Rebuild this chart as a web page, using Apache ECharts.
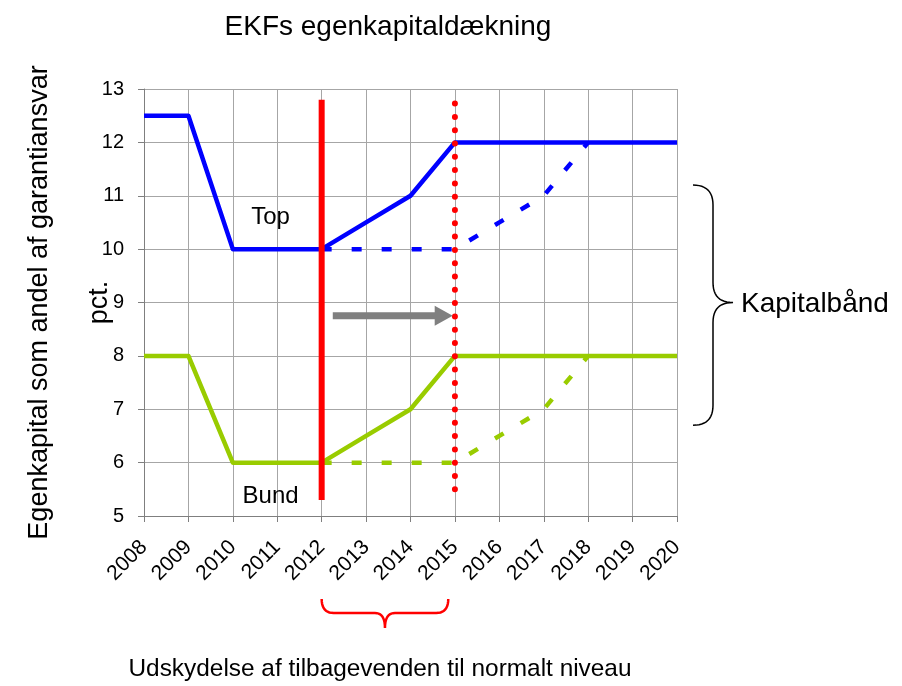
<!DOCTYPE html>
<html>
<head>
<meta charset="utf-8">
<script src="https://cdn.jsdelivr.net/npm/echarts@6/dist/echarts.min.js"></script>
<style>
  html, body { margin: 0; padding: 0; background: #ffffff; }
  #chart { width: 902px; height: 686px; }
</style>
</head>
<body>
<div id="chart"></div>
<script>
// ---- Data ----
const years = [2008, 2009, 2010, 2011, 2012, 2013, 2014, 2015, 2016, 2017, 2018, 2019, 2020];
const topSolid    = [12.5, 12.5, 10, 10, 10, 10.5, 11, 12, 12, 12, 12, 12, 12];
const topDashed   = [null, null, null, null, 10, 10, 10, 10, 10.5, 11, 12, null, null];
const bundSolid   = [8, 8, 6, 6, 6, 6.5, 7, 8, 8, 8, 8, 8, 8];
const bundDashed  = [null, null, null, null, 6, 6, 6, 6, 6.5, 7, 8, null, null];
const redSolidLine  = [[2012, 5.3], [2012, 12.8]];
const redDottedLine = [[2015, 5.5], [2015, 12.83]];
const arrowFrom = [2012.25, 8.75];
const arrowTo   = [2014.95, 8.75];
const yTicks = [5, 6, 7, 8, 9, 10, 11, 12, 13];

const FONT = 'Liberation Sans';
const pair = arr => years.map((y, i) => [y, arr[i]]);

const chart = echarts.init(document.getElementById('chart'), null, { renderer: 'canvas' });

const option = {
  animation: false,
  backgroundColor: '#ffffff',
  grid: { left: 144, right: 225, top: 89, bottom: 170, containLabel: false, outerBoundsMode: 'none' },
  xAxis: {
    type: 'value',
    min: years[0], max: years[years.length - 1], interval: 1,
    axisLine: { show: true, lineStyle: { color: '#7f7f7f', width: 1 } },
    axisTick: { show: true, length: 6, lineStyle: { color: '#7f7f7f' } },
    axisLabel: {
      rotate: 45, margin: 28, color: '#000', fontFamily: FONT, fontSize: 21,
      formatter: v => String(v)
    },
    splitLine: { show: true, lineStyle: { color: '#a6a6a6', width: 1 } }
  },
  yAxis: {
    type: 'value',
    min: yTicks[0], max: yTicks[yTicks.length - 1], interval: 1,
    axisLine: { show: true, lineStyle: { color: '#7f7f7f', width: 1 } },
    axisTick: { show: true, length: 6, lineStyle: { color: '#7f7f7f' } },
    axisLabel: { margin: 20, color: '#000', fontFamily: FONT, fontSize: 20 },
    splitLine: { show: true, lineStyle: { color: '#a6a6a6', width: 1 } }
  },
  series: [
    { name: 'Top', type: 'line', data: pair(topSolid), symbol: 'none', z: 3,
      lineStyle: { color: '#0000ff', width: 4.5, join: 'round' } },
    { name: 'Top udskudt', type: 'line', data: pair(topDashed), symbol: 'none', z: 2,
      lineStyle: { color: '#0000ff', width: 4.5, type: [10, 20] } },
    { name: 'Bund', type: 'line', data: pair(bundSolid), symbol: 'none', z: 3,
      lineStyle: { color: '#99cc00', width: 4.5, join: 'round' } },
    { name: 'Bund udskudt', type: 'line', data: pair(bundDashed), symbol: 'none', z: 2,
      lineStyle: { color: '#99cc00', width: 4.5, type: [10, 20] } },
    { name: 'Nu', type: 'line', data: redSolidLine, symbol: 'none', z: 5,
      lineStyle: { color: '#ff0000', width: 6, cap: 'butt' } },
    { name: 'Ny', type: 'line', data: redDottedLine, symbol: 'none', z: 5,
      lineStyle: { color: '#ff0000', width: 6, type: [0, 13.3], cap: 'round' } }
  ]
};
chart.setOption(option);

function px(pt) { return chart.convertToPixel({ gridIndex: 0 }, pt); }

// quadratic bezier sampler -> points
function quad(p0, c, p1, n) {
  const out = [];
  for (let i = 0; i <= n; i++) {
    const t = i / n, u = 1 - t;
    out.push([u * u * p0[0] + 2 * u * t * c[0] + t * t * p1[0], u * u * p0[1] + 2 * u * t * c[1] + t * t * p1[1]]);
  }
  return out;
}

const a0 = px(arrowFrom), a1 = px(arrowTo);
const shaftH = 3.5, headH = 10, headL = 18;
const arrowPts = [
  [a0[0], a0[1] - shaftH], [a1[0] - headL, a0[1] - shaftH], [a1[0] - headL, a0[1] - headH],
  [a1[0], a0[1]], [a1[0] - headL, a0[1] + headH], [a1[0] - headL, a0[1] + shaftH], [a0[0], a0[1] + shaftH]
];

const gridBottom = px([2008, 5])[1];
const gridTop = px([2008, 13])[1];
const gridRight = px([2020, 5])[0];
const p2012 = px([2012, 5])[0];
const p2015 = px([2014.85, 5])[0];
const yMidPx = (gridTop + gridBottom) / 2;

// right curly brace (Kapitalbånd)
const bTop = px([2020, 11.2])[1], bBot = px([2020, 6.7])[1], bMid = px([2020, 9])[1];
const bx0 = gridRight + 16, bw = 40, r = 20;
const bxm = bx0 + bw / 2;
const rightBrace = [].concat(
  quad([bx0, bTop], [bxm, bTop], [bxm, bTop + r], 12),
  quad([bxm, bMid - r], [bxm, bMid], [bx0 + bw, bMid], 12),
  quad([bx0 + bw, bMid], [bxm, bMid], [bxm, bMid + r], 12),
  quad([bxm, bBot - r], [bxm, bBot], [bx0, bBot], 12)
);

// red curly brace under axis
const rbTop = gridBottom + 83, rbLine = gridBottom + 97, rbTip = gridBottom + 112;
const rbL = p2012, rbR = p2015, rbM = (rbL + rbR) / 2, rr = 12;
const redBrace = [].concat(
  quad([rbL, rbTop], [rbL, rbLine], [rbL + rr, rbLine], 10),
  quad([rbM - 10, rbLine], [rbM, rbLine], [rbM, rbTip], 10),
  quad([rbM, rbTip], [rbM, rbLine], [rbM + 10, rbLine], 10),
  quad([rbR - rr, rbLine], [rbR, rbLine], [rbR, rbTop], 10)
);

const topLbl = px([2010.85, 10.6]);
const bundLbl = px([2010.85, 5.37]);

chart.setOption({
  graphic: [
    { type: 'text', x: 388, y: 27, style: { text: 'EKFs egenkapitaldækning', fontFamily: FONT, fontSize: 28, fill: '#000', textAlign: 'center', textVerticalAlign: 'middle' } },
    { type: 'text', x: 40, y: yMidPx, rotation: Math.PI / 2, style: { text: 'Egenkapital som andel af garantiansvar', fontFamily: FONT, fontSize: 27, fill: '#000', textAlign: 'center', textVerticalAlign: 'middle' } },
    { type: 'text', x: 100, y: yMidPx, rotation: Math.PI / 2, style: { text: 'pct.', fontFamily: FONT, fontSize: 27, fill: '#000', textAlign: 'center', textVerticalAlign: 'middle' } },
    { type: 'text', x: 380, y: 669, style: { text: 'Udskydelse af tilbagevenden til normalt niveau', fontFamily: FONT, fontSize: 24.4, fill: '#000', textAlign: 'center', textVerticalAlign: 'middle' } },
    { type: 'text', x: bx0 + bw + 8, y: bMid + 2, style: { text: 'Kapitalbånd', fontFamily: FONT, fontSize: 28, fill: '#000', textAlign: 'left', textVerticalAlign: 'middle' } },
    { type: 'text', x: topLbl[0], y: topLbl[1], z: 10, style: { text: 'Top', fontFamily: FONT, fontSize: 24, fill: '#000', textAlign: 'center', textVerticalAlign: 'middle' } },
    { type: 'text', x: bundLbl[0], y: bundLbl[1], z: 10, style: { text: 'Bund', fontFamily: FONT, fontSize: 24, fill: '#000', textAlign: 'center', textVerticalAlign: 'middle' } },
    { type: 'polygon', z: 10, shape: { points: arrowPts }, style: { fill: '#808080' } },
    { type: 'polyline', shape: { points: rightBrace }, style: { fill: null, stroke: '#000', lineWidth: 1.5 } },
    { type: 'polyline', shape: { points: redBrace }, style: { fill: null, stroke: '#ff0000', lineWidth: 2.5 } }
  ]
});
</script>
</body>
</html>
